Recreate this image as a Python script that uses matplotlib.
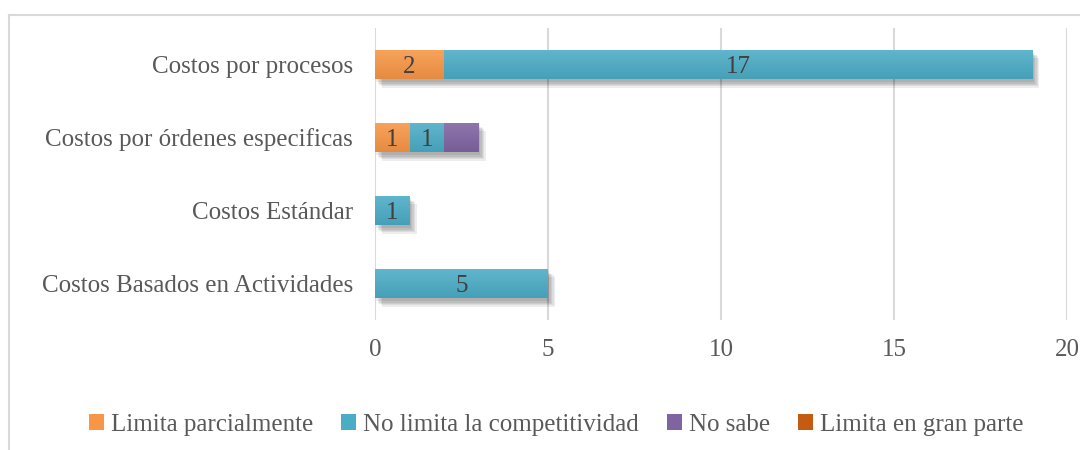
import matplotlib
matplotlib.use("Agg")
import matplotlib.pyplot as plt
import matplotlib.patheffects as pe
from matplotlib.lines import Line2D
from matplotlib.patches import Patch
import matplotlib.colors as mcolors
import numpy as np

categories = ["Costos por procesos", "Costos por órdenes especificas",
              "Costos Estándar", "Costos Basados en Actividades"]
series_names = ["Limita parcialmente", "No limita la competitividad",
                "No sabe", "Limita en gran parte"]
limita_parcialmente = [2, 1, 0, 0]
no_limita = [17, 1, 1, 5]
no_sabe = [0, 1, 0, 0]
limita_gran_parte = [0, 0, 0, 0]
show_labels = [True, True, False, True]
colors = ["#F79646", "#4BACC6", "#8064A2", "#C55A11"]
xticks = [0, 5, 10, 15, 20]

FONT = "Liberation Serif"
FS = 18
TXT = "#595959"
GRID = "#D9D9D9"

fig = plt.figure(figsize=(10.8, 4.5), dpi=100)
W, H = 1080, 450
ax = fig.add_axes([375 / W, 1 - 320 / H, (1067 - 375) / W, (320 - 28) / H])

series = [limita_parcialmente, no_limita, no_sabe, limita_gran_parte]
y = np.arange(len(categories))
left = np.zeros(len(categories))
shadow = [pe.SimplePatchShadow(offset=(o, -o - 1), shadow_rgbFace="#000000", alpha=0.07)
          for o in (1, 2, 3, 4, 5)] + [pe.Normal()]


def shade(col, f):
    r, g, b = mcolors.to_rgb(col)
    if f >= 0:
        return (r + (1 - r) * f, g + (1 - g) * f, b + (1 - b) * f)
    return (r * (1 + f), g * (1 + f), b * (1 + f))


for vals, col, name, lab in zip(series, colors, series_names, show_labels):
    vals = np.array(vals, dtype=float)
    bars = ax.barh(y, vals, left=left, height=0.41, color=col, zorder=3)
    cmap = mcolors.LinearSegmentedColormap.from_list(
        "g", [shade(col, 0.12), shade(col, -0.07)])
    for b, v in zip(bars, vals):
        if v > 0:
            b.set_path_effects(shadow)
            x0, y0 = b.get_x(), b.get_y()
            grad = np.linspace(0, 1, 50).reshape(-1, 1)
            # y axis is inverted: y0 is the visual top of the bar
            im = ax.imshow(grad, extent=(x0, x0 + b.get_width(), y0 + b.get_height(), y0),
                           cmap=cmap, aspect="auto", zorder=3.5, origin="upper")
            im.set_clip_path(b)
            if lab:
                ax.text(x0 + b.get_width() / 2, y0 + b.get_height() / 2,
                        f"{int(v)}", ha="center", va="center_baseline", fontsize=FS,
                        color="#404040", family=FONT, zorder=4)
    left += vals

ax.set_xlim(0, 20)
ax.set_ylim(3.5, -0.5)
ax.set_xticks(xticks)
ax.set_yticks(y)
ax.set_yticklabels(categories)
ax.xaxis.grid(True, color=GRID, linewidth=1.5, zorder=0)
ax.set_axisbelow(True)
for s in ax.spines.values():
    s.set_visible(False)
ax.tick_params(axis="both", length=0, labelcolor=TXT, labelsize=FS)
ax.tick_params(axis="x", pad=14)
ax.tick_params(axis="y", pad=16)
for t in ax.get_xticklabels() + ax.get_yticklabels():
    t.set_family(FONT)

handles = [Patch(facecolor=c, edgecolor="none") for c in colors]
leg = fig.legend(handles, series_names, loc="center", bbox_to_anchor=(0.515, 1 - 425 / H),
                 ncol=4, frameon=False, handlelength=0.6, handleheight=0.6,
                 handletextpad=0.3, columnspacing=1.1,
                 prop={"family": FONT, "size": FS})
for t in leg.get_texts():
    t.set_color(TXT)

fig.add_artist(Line2D([9 / W, 1], [1 - 15 / H, 1 - 15 / H], transform=fig.transFigure,
                      color=GRID, linewidth=1.5))
fig.add_artist(Line2D([9 / W, 9 / W], [0, 1 - 15 / H], transform=fig.transFigure,
                      color=GRID, linewidth=1.5))

fig.savefig("out.png", dpi=100, facecolor="white")
